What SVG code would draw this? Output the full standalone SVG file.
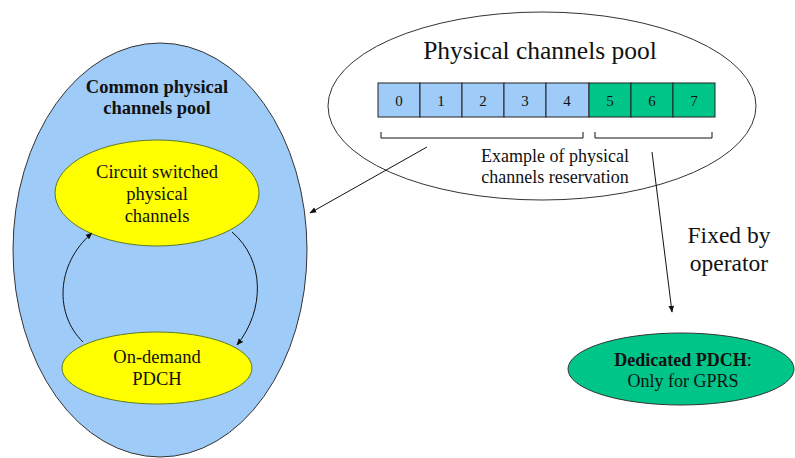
<svg xmlns="http://www.w3.org/2000/svg" width="795" height="458" viewBox="0 0 795 458" font-family="Liberation Serif, serif">
<defs>
<style>
text{fill:#111;text-anchor:middle}
.bold{font-weight:bold}
.cell-b{fill:#9ecbf7;stroke:#222;stroke-width:1}
.cell-g{fill:#00c589;stroke:#222;stroke-width:1}
.line{fill:none;stroke:#111;stroke-width:1}
</style>
<marker id="ah" viewBox="0 0 10 10" refX="9" refY="5" markerWidth="7" markerHeight="7" orient="auto-start-reverse">
<path d="M0,1 L10,5 L0,9 z" fill="#111"/>
</marker>
</defs>
<rect width="795" height="458" fill="#fff"/>
<g id="common-pool" font-family="Liberation Serif">
<ellipse cx="160" cy="250" rx="147" ry="207" fill="#9ecbf7" stroke="#333" stroke-width="1"/>
<text x="157" y="93" class="bold" font-size="18.5" fill="#1a2340">Common physical</text>
<text x="157" y="114" class="bold" font-size="18.5" fill="#1a2340">channels pool</text>
</g>
<g id="circuit-switched" font-family="Liberation Serif">
<ellipse cx="157" cy="193" rx="102" ry="53" fill="#ffff00" stroke="#5a7a2a" stroke-width="1"/>
<text x="157" y="178" font-size="18.5">Circuit switched</text>
<text x="157" y="200" font-size="18.5">physical</text>
<text x="157" y="222" font-size="18.5">channels</text>
</g>
<g id="on-demand" font-family="Liberation Serif">
<ellipse cx="157" cy="368" rx="95" ry="36" fill="#ffff00" stroke="#5a7a2a" stroke-width="1"/>
<text x="157" y="363" font-size="18.5">On-demand</text>
<text x="157" y="385" font-size="18.5">PDCH</text>
</g>
<g id="physical-pool" font-family="Liberation Serif">
<ellipse cx="542" cy="106" rx="214" ry="94" fill="#fff" stroke="#333" stroke-width="1"/>
<text x="540" y="59" font-size="25.5">Physical channels pool</text>
<rect class="cell-b" x="378" y="83" width="42" height="34"/>
<rect class="cell-b" x="420" y="83" width="42" height="34"/>
<rect class="cell-b" x="462" y="83" width="42" height="34"/>
<rect class="cell-b" x="504" y="83" width="42" height="34"/>
<rect class="cell-b" x="546" y="83" width="43" height="34"/>
<rect class="cell-g" x="589" y="83" width="42" height="34"/>
<rect class="cell-g" x="631" y="83" width="42" height="34"/>
<rect class="cell-g" x="673" y="83" width="42" height="34"/>
<text x="399" y="106" font-size="15">0</text>
<text x="441" y="106" font-size="15">1</text>
<text x="483" y="106" font-size="15">2</text>
<text x="525" y="106" font-size="15">3</text>
<text x="567" y="106" font-size="15">4</text>
<text x="610" y="106" font-size="15">5</text>
<text x="652" y="106" font-size="15">6</text>
<text x="694" y="106" font-size="15">7</text>
<path class="line" d="M381,132 V138 H583 V132" stroke="#555"/>
<path class="line" d="M595,132 V138 H712 V132" stroke="#555"/>
<text x="555" y="162" font-size="18">Example of physical</text>
<text x="555" y="183" font-size="18">channels reservation</text>
</g>
<g id="dedicated" font-family="Liberation Serif">
<ellipse cx="681" cy="369" rx="113" ry="36" fill="#00c589" stroke="#333" stroke-width="1"/>
<text x="683" y="366" class="bold" font-size="18">Dedicated PDCH<tspan font-weight="normal">:</tspan></text>
<text x="683" y="387" font-size="18">Only for GPRS</text>
</g>
<g id="labels" font-family="Liberation Serif">
<text x="729" y="243" font-size="23.5">Fixed by</text>
<text x="729" y="271" font-size="23.5">operator</text>
</g>
<g id="connectors">
<path class="line" d="M427,147 L310,213" marker-end="url(#ah)"/>
<path class="line" d="M652,152 L672,312" marker-end="url(#ah)"/>
<path class="line" d="M83,342 C55,315 55,265 92,233" marker-end="url(#ah)"/>
<path class="line" d="M232,232 C265,260 265,310 237,345" marker-end="url(#ah)"/>
</g>
</svg>
